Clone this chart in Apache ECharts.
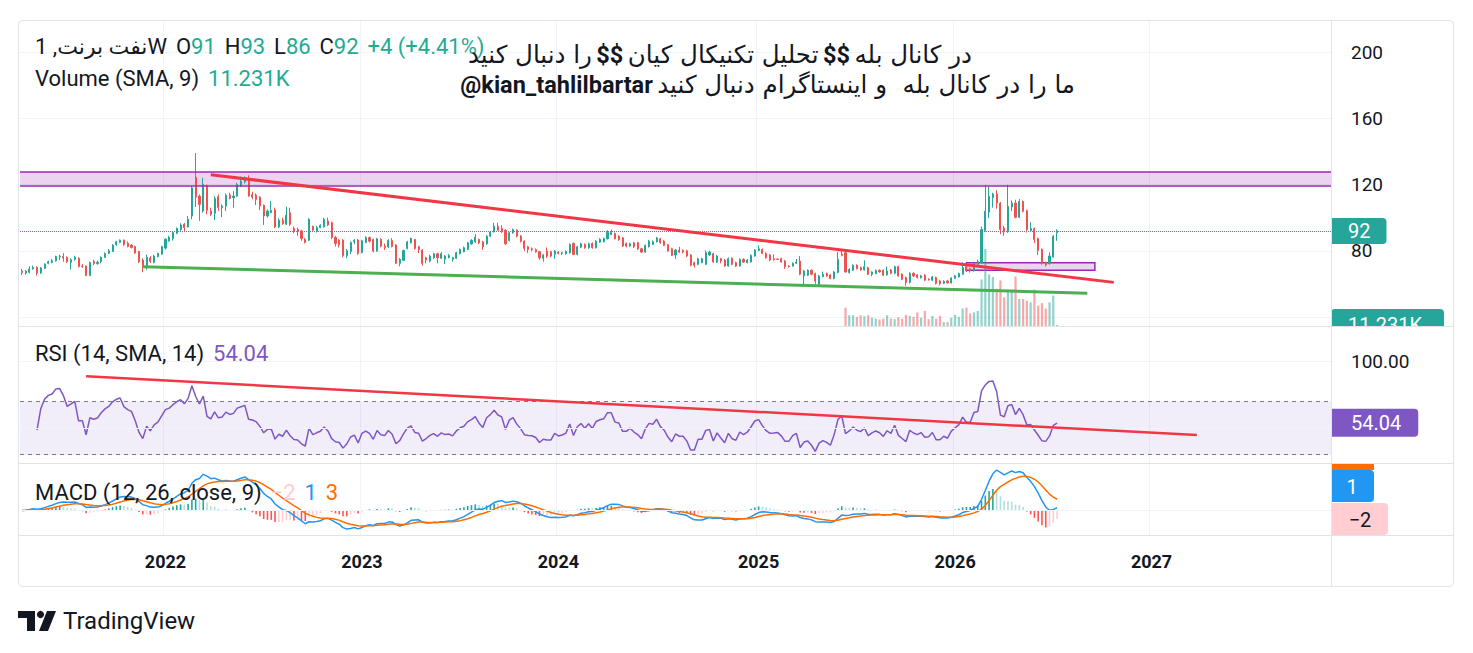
<!DOCTYPE html>
<html>
<head>
<meta charset="utf-8">
<script src="https://cdn.jsdelivr.net/npm/echarts@6/dist/echarts.min.js"></script>
<style>
html,body{margin:0;padding:0;background:#ffffff;}
#chart{width:1473px;height:653px;}
</style>
</head>
<body>
<div id="chart"></div>
<script>
// ---------------- DATA ----------------
const firstWeek = '2021-04-12';
const weeksOnAxis = 347;
const yearTickLabels = ['2022', '2023', '2024', '2025', '2026', '2027'];

// weekly candles: [open, high, low, close]
const weeklyOHLC = [
[67.6,69,65.4,66.8],[66.6,68.4,65.6,67.6],[67,70.6,66.4,69],[69,71,68.6,70],[70,70.6,65,66.6],
[66.6,70.2,66,69.6],[69.4,72.4,69,72],[72.4,74,71.8,73.4],[73,75,72.4,74],[74,77,73.4,76.6],
[76.4,77.6,74.4,76.8],[76.6,78.6,73.4,75.6],[76,76.6,72.6,73.4],[73,75.4,68.6,74.6],[74.8,77,74,76],
[75.4,76,70,70.4],[70.8,72,69.6,70.4],[70.8,71,64.8,65],[65,73.4,65,73],[73.6,74.6,71.4,72.4],
[72.2,74,71.6,73],[73.6,76.6,72.4,76],[76,79,75.8,78.4],[78.4,81,78,80],[79.6,84,79.4,83.4],
[83.6,86,83,85.4],[85,86.8,84.6,86.4],[86.4,86.8,83,83.6],[84.6,85.6,82,82.6],[83.4,84,81.4,82],
[82.6,83,78.2,78.6],[79.6,80,72.6,73.4],[74.4,75.4,67,70],[70.4,77.6,68.6,76],[75.6,76.8,72.6,73.6],
[72.8,77.6,72.4,76.8],[76.4,78.8,76,78.4],[78,83,77.6,82.4],[81.6,87.4,80.6,87],[86,89,85.4,88.2],
[87.4,91.4,86.2,91],[90.6,94,90,93.6],[92.8,96.6,92,95.6],[96,96.8,91.6,94],[94.4,101,94,99],
[101,119,99,118],[124.4,139,106.4,112.4],[113,114,98,108],[104,124,103,120],[119.4,120,102,104.4],
[104,106,101,102],[102.6,113,98.4,111.6],[112.6,114,104,106],[106,108,100.4,107],[107,114.6,104,113.6],
[113.6,115,111,111.6],[112,116,106,113],[113,121,112.6,120],[119,124.8,118.4,122],[121.6,124.8,120.6,124],
[122.4,125.6,112.6,113],[114,115.6,111,112.4],[113.6,114.6,107.6,111],[112.4,113,104.6,107],[107.4,108,95.6,101],
[101,105,100,104],[103,110,102.6,104.4],[104.6,106,93.6,94.4],[94.4,99.6,93.6,98.4],[98.4,100,95.6,96.4],
[96,106.6,95.6,101.4],[103,106,95,96],[93.6,94.6,90.6,92],[92.8,94,89,91.6],[92,92.6,86,87.4],
[87,87.6,84.4,85],[86.4,99.6,86,99],[94.6,95.2,91.4,92.4],[91.6,95,91,94],[94,96,93.6,95.4],
[94.4,99.8,94,99],[98,100,95,95.6],[97,97.6,87,88],[88,89,82.6,84.4],[86.4,87,82,83.6],
[86.4,87,76,77],[77,81,75.6,80],[79.6,85.6,78,85],[85.4,87,84,86.4],[86.4,87.2,77.6,78.4],
[79,86.6,78.4,86],[85,88.8,84.6,88],[88,88.6,85,85.8],[86.8,87.4,79,79.8],[79.8,87.8,79.4,87.2],
[86.8,87.6,82,82.8],[82.8,84.4,80.4,82],[82.4,87,81.6,86.2],[86.2,87.6,82,82.6],[83.4,84,72,72.4],
[72.4,75.6,70.6,74.8],[74.2,80.6,73.8,80.2],[81.4,86,80.8,85.4],[84.8,88,84.4,87.4],[86.8,87.2,80.6,81.4],
[82.4,83,78.6,80.6],[80.4,81,71,72.4],[75.8,76.4,72.4,74.4],[73.8,77.6,73,76.8],[75.8,78.8,75,78.2],
[78.2,78.8,72.4,75.8],[75.4,79.2,75,78.2],[74.8,77.4,72,76.8],[75.8,78,75.4,77.2],[74.8,76.4,73.4,75.8],
[75.4,79.4,75,78.8],[78.2,81.4,77.8,80.8],[79.4,82.6,79,81.8],[80.8,85.4,80.4,84.8],[84.2,87,83.6,86.2],
[85.4,90,84.6,88.2],[86.8,87.4,84,84.8],[85.4,86,80.6,82.4],[84.2,89.4,83.6,88.8],[88.8,92,88.4,91.2],
[91.4,96.8,91,94.8],[94.8,97,92,92.4],[93.4,95.4,90.8,91.4],[92.4,93,83.4,84.2],[86.2,91.4,85.6,90.8],
[90.8,93.4,90.2,92.8],[92.4,93,88,88.8],[88.8,89.4,85,85.8],[85.8,86.4,80,81.4],[82.4,83,78.6,80.8],
[81.2,82,79.6,80.6],[80.8,81.4,78.8,79.4],[79.4,80,74.6,75.8],[75.4,78,73.4,77.4],[79.8,82,75.6,76.8],
[79.4,80,76,76.8],[77.8,80.4,75,79.8],[79.2,79.8,77.8,78.4],[78.4,79.4,77.4,78.8],[78.2,80.2,77.6,79.6],
[78.8,84.4,78.2,83.8],[84.4,85,77.4,77.8],[77.8,83,77.2,82.4],[82.2,84.8,81.6,84.2],[83.8,84.4,81.2,81.8],
[81.8,85,81.2,84.2],[84.4,85,81.2,81.8],[81.8,86.4,81.4,85.8],[85.2,87.6,84.8,86.8],[85.4,88,85,87.4],
[87.2,92.4,86.8,91.2],[89.8,92.8,89.4,91.2],[90.4,91,86.8,87.2],[88.8,89.4,86,86.8],[87.8,88.4,82.2,82.8],
[84.4,85,82,82.8],[82.8,84.8,82.4,84.2],[84.8,85.4,81.6,82.4],[84.8,85.4,80.4,81.2],[81.2,81.8,78.6,79.2],
[79.2,83.8,78.8,83.2],[82.4,86.6,82,85.8],[83.8,86.2,83.4,85.4],[85.4,88.4,85,87.8],[87.2,87.8,84.2,84.8],
[85.8,86.4,82.8,83.2],[83.6,84,79.4,79.8],[81.2,81.8,76.8,77.2],[77.4,81,75,80.4],[80.4,82.4,78.6,79.2],
[80.2,80.8,78.4,79.2],[80,80.6,76.2,76.8],[77.4,78,70.6,71.2],[72.8,73.4,69.8,71.2],[71.8,75.8,71.2,75.2],
[72.8,75.8,72.4,75.2],[71.8,80.2,71.4,78.8],[77.4,80,76.8,79.2],[78.2,78.8,72.8,73.2],[73.2,77.4,72.6,76.8],
[75.2,75.8,72.4,73.8],[74.4,75,70.2,70.8],[70.8,76,70.4,75.2],[75.4,76,71.2,71.8],[72.8,73.4,70.2,70.8],
[70.8,75.4,70.4,74.8],[74.8,75.4,72.6,73.2],[72.8,75,72.4,74.4],[73.2,77.8,72.8,77.2],[76.8,81,76.4,80.4],
[80.2,83.2,79.8,81.2],[80.8,81.4,78,78.4],[78.4,79,75.2,75.8],[77.4,78,73.8,74.4],[75.2,77.8,74,74.6],
[75,75.4,74.4,74.8],[75.2,75.8,72.8,73.2],[73.8,74.4,69,70.4],[70.8,71.2,69.8,70.4],[70.8,73,70.4,72.4],
[72.4,75,72,73.2],[73.8,76.8,65.2,65.8],[64.8,68.4,59,67.8],[65.2,68.8,64.8,68.2],[68.2,68.8,65.2,65.8],
[66.2,66.8,60,61.8],[59.2,65.4,59,64.8],[64.4,67.4,64,65.8],[66.2,66.8,64.2,64.8],[65.4,66,62.8,63.2],
[63.2,67.8,62.8,67.2],[66.8,79.2,66.4,74.8],[77.8,79.8,76.6,77.2],[78.8,79.8,66.8,67.2],[66.8,69.4,66.2,68.8],
[68.2,71.8,67.8,71.2],[71.2,71.8,68.8,69.2],[69.8,70.4,68,68.4],[68.4,74.2,68,70.4],[69.8,70.4,65.4,65.8],
[65.8,67.6,64.6,67.2],[66.2,68.6,65.8,68.2],[68.2,68.8,66.8,67.2],[68.2,68.8,64.8,65.2],[65.4,70.4,65,67.8],
[68.4,69,65.8,66.4],[66.4,71,65.8,70.4],[70.4,71,64.4,64.8],[65.8,66.4,62.2,62.8],[63.8,64.4,58.8,60.8],
[60.8,67,60.2,66.4],[66.4,67,64.2,64.8],[65.4,66,63.2,63.8],[63.8,65.4,63.2,64.8],[65.2,65.8,61.6,62.2],
[62.8,63.4,62,62.4],[62.2,64.8,61.8,64.2],[63.8,64.4,59.6,60.2],[61.8,62.4,59,60.2],[60.4,62.2,60,61.6],
[61.8,62.4,60.2,60.6],[60.6,64,60.2,63.4],[63.4,65.4,63,64.8],[64.2,66.8,63.8,66.2],[65.8,73,65.4,69.8],
[70.2,70.8,67.2,67.8],[69.2,69.8,66.8,67.8],[67.8,73.4,67.4,72.8],[71.8,74.6,71.2,73.4],[72.8,94.6,72.4,92.8],
[92.2,119.8,91.6,103.8],[103.4,118.8,99.8,112.8],[112.2,115,106,114.2],[114.2,116.6,105.4,108.8],[108.8,109.4,90,92.8],
[93.8,95,89,91.4],[91.4,119.8,90.8,106.8],[106.4,110.4,104,108.8],[108.8,110.8,99.6,100.2],[100.2,111.2,99.6,109.8],
[109.8,110.4,103.2,103.8],[104.2,104.8,91,92.8],[92.2,97.2,91.6,93.4],[93.4,94,84.6,86.8],[87.4,88,77.4,80.2],
[80.8,81.4,71.6,72.2],[72.8,73.4,70.6,71.4],[72.2,79,71.6,76.8],[76.2,89.4,76,88.8],[91,93,86,92]
];

// weekly volume in thousands, starting at this week
const volumeFromWeek = '2025-06-16';
const volumeK = [
9.2,5.4,5.4,4.6,5.4,4.9,5.4,4.2,3.7,3.2,3.7,5.4,3.7,3.4,
4.4,3.7,5.6,5.1,4.6,6.8,4.2,7.6,3.4,5.1,3.7,5.1,2.0,2.0,4.2,5.6,4.6,8.8,9.3,6.3,6.8,7.6,
23.4,38.7,25.9,24.6,18.7,22.9,14.4,18.3,18.3,24.9,13.6,13.6,12.7,11.9,18.3,10.2,11.5,8.8,11.9,15.3,0.5
];
const volumeSmaLabel = '11.231K';

// drawings: [week, value]
const redTrendPrice = [['2022-03-28', 125.9], ['2026-10-26', 60.9]];
const greenTrendPrice = [['2021-11-22', 70.4], ['2026-09-07', 54.3]];
const resistanceZone = [119.5, 127.5];
const smallBox = [['2026-01-26', 72.8], ['2026-09-21', 68.3]];
const redTrendRsi = [['2021-08-09', 89.0], ['2027-03-29', 44.7]];

const rsiLast = 54.04;
const macdLegend = {hist: '−2', macd: '1', signal: '3'};

// ---------------- DERIVED ----------------
const categories = [];
const t0 = Date.parse(firstWeek);
for (let i = 0; i < weeksOnAxis; i++) {
  categories.push(new Date(t0 + i * 7 * 86400000).toISOString().slice(0, 10));
}
function isYearStart(i) {
  if (i <= 0) return false;
  const y = categories[i].slice(0, 4);
  return y !== categories[i - 1].slice(0, 4) && yearTickLabels.indexOf(y) >= 0;
}
const closes = weeklyOHLC.map(r => r[3]);
const candleData = weeklyOHLC.map(r => [r[0], r[3], r[2], r[1]]);
const volStart = categories.indexOf(volumeFromWeek);
const volumeData = weeklyOHLC.map((r, i) => {
  const k = i - volStart;
  if (k < 0 || k >= volumeK.length) return null;
  return {value: volumeK[k], itemStyle: {color: r[3] >= r[0] ? 'rgba(38,166,154,0.5)' : 'rgba(239,83,80,0.5)'}};
});

function rsi(src, len) {
  const out = [];
  let ag = 0, al = 0;
  for (let i = 0; i < src.length; i++) {
    if (i === 0) { out.push(null); continue; }
    const ch = src[i] - src[i - 1];
    const g = Math.max(ch, 0), l = Math.max(-ch, 0);
    if (i <= len) { ag = (ag * (i - 1) + g) / i; al = (al * (i - 1) + l) / i; }
    else { ag = (ag * (len - 1) + g) / len; al = (al * (len - 1) + l) / len; }
    const v = al === 0 ? 100 : 100 - 100 / (1 + ag / al);
    out.push(i >= 4 ? +v.toFixed(2) : null);
  }
  return out;
}
function ema(src, n) {
  const k = 2 / (n + 1);
  const out = [];
  let e = src[0];
  for (let i = 0; i < src.length; i++) {
    e = i === 0 ? src[0] : src[i] * k + e * (1 - k);
    out.push(e);
  }
  return out;
}
const rsiData = rsi(closes, 14);
const e12 = ema(closes, 12), e26 = ema(closes, 26);
const macdData = closes.map((_, i) => +(e12[i] - e26[i]).toFixed(3));
const signalData = ema(macdData, 9).map(v => +v.toFixed(3));
const histData = macdData.map((m, i) => {
  const h = +(m - signalData[i]).toFixed(3);
  const prev = i > 0 ? macdData[i - 1] - signalData[i - 1] : 0;
  let c;
  if (h >= 0) c = h > prev ? '#26a69a' : '#b2dfdb';
  else c = h < prev ? '#ff5252' : '#ffcdd2';
  return {value: h, itemStyle: {color: c}};
});

// ---------------- CHART ----------------
const FONT = 'Roboto, "Noto Sans", "DejaVu Sans", sans-serif';
const FA = '"DejaVu Sans", "Noto Sans", sans-serif';
const chart = echarts.init(document.getElementById('chart'), null, {renderer: 'svg', width: 1473, height: 653});

const gridL = 20, gridR = 142;
const lineSym = ['none', 'none'];
const CLEAR = 'rgba(0,0,0,0)';
function legendStyle(color, size) {
  return {color: color, fontSize: size || 22, fontWeight: 'normal', fontFamily: FONT};
}

const option = {
  animation: false,
  backgroundColor: '#ffffff',
  textStyle: {fontFamily: FONT},
  title: [
    {left: 35, top: 35, padding: 0, text: '{d|نفت برنت, 1W}  {d|O}{g|91}  {d|H}{g|93}  {d|L}{g|86}  {d|C}{g|92}  {g|+4 (+4.41%)}',
     textStyle: {fontWeight: 'normal', rich: {d: legendStyle('#131722'), g: legendStyle('#22ab94')}}},
    {left: 35, top: 67, padding: 0, text: '{d|Volume (SMA, 9)}  {g|' + volumeSmaLabel + '}',
     textStyle: {fontWeight: 'normal', rich: {d: legendStyle('#131722'), g: legendStyle('#22ab94')}}},
    {left: 35, top: 342, padding: 0, text: '{d|RSI (14, SMA, 14)}  {p|' + rsiLast.toFixed(2) + '}',
     textStyle: {fontWeight: 'normal', rich: {d: legendStyle('#131722'), p: legendStyle('#7e57c2')}}},
    {left: 35, top: 481, padding: 0, text: '{d|MACD (12, 26, close, 9)}  {h|' + macdLegend.hist + '}  {b|' + macdLegend.macd + '}  {o|' + macdLegend.signal + '}',
     textStyle: {fontWeight: 'normal', rich: {d: legendStyle('#131722'), h: legendStyle('#ffcdd2'), b: legendStyle('#2196f3'), o: legendStyle('#ff6d00')}}},
    {right: 501, top: 42, padding: 0, text: '{n|را دنبال کنید} {b|$$} {n|تحلیل تکنیکال کیان} {b|$$} {n|در کانال بله}',
     textStyle: {fontWeight: 'normal', rich: {n: {color: '#131722', fontSize: 24.5, fontWeight: 'normal', fontFamily: FA},
       b: {color: '#131722', fontSize: 23.5, fontWeight: 'bold', fontFamily: FONT}}}},
    {right: 398, top: 72, padding: 0, text: '{b|@kian_tahlilbartar} {n|ما را در کانال بله  و اینستاگرام دنبال کنید}',
     textStyle: {fontWeight: 'normal', rich: {n: {color: '#131722', fontSize: 24.5, fontWeight: 'normal', fontFamily: FA},
       b: {color: '#131722', fontSize: 23.5, fontWeight: 'bold', fontFamily: FONT}}}}
  ],
  grid: [
    {left: gridL, right: gridR, top: 52, bottom: 653 - 317},
    {left: gridL, right: gridR, top: 20, bottom: 653 - 326},
    {left: gridL, right: gridR, top: 326, bottom: 653 - 463},
    {left: gridL, right: gridR, top: 463, bottom: 653 - 535}
  ],
  xAxis: [0, 1, 2, 3].map(i => ({
    type: 'category', gridIndex: i, data: categories, boundaryGap: true,
    axisLine: {show: false}, axisTick: {show: false},
    axisLabel: i === 3 ? {
      show: true, interval: (idx) => isYearStart(idx), formatter: v => v.slice(0, 4),
      fontSize: 18, fontWeight: 'bold', color: '#131722', margin: 17, fontFamily: FONT
    } : {show: false},
    splitLine: i === 0 ? {show: false} : {show: true, interval: (idx) => isYearStart(idx), lineStyle: {color: '#f0f3fa', width: 1}}
  })),
  yAxis: [
    {type: 'value', gridIndex: 0, position: 'right', min: 40, max: 200, interval: 40,
     axisLine: {show: false}, axisTick: {show: false},
     axisLabel: {margin: 20, fontSize: 19, color: '#131722', showMinLabel: false, fontFamily: FONT},
     splitLine: {lineStyle: {color: '#f0f3fa', width: 1}}},
    {type: 'value', gridIndex: 1, show: false, min: 0, max: v => v.max * 306 / 77},
    {type: 'value', gridIndex: 2, show: false, min: 23.7, max: 126.9},
    {type: 'value', gridIndex: 3, show: false,
     min: v => v.min - (v.max - v.min) * 0.1, max: v => v.max + (v.max - v.min) * 0.12}
  ],
  series: [
    {
      name: 'price', type: 'candlestick', xAxisIndex: 0, yAxisIndex: 0, data: candleData, z: 3,
      barWidth: 1.6,
      itemStyle: {color: '#26a69a', color0: '#ef5350', borderColor: '#26a69a', borderColor0: '#ef5350', borderWidth: 1},
      markLine: {
        silent: true, symbol: lineSym,
        data: [{yAxis: closes[closes.length - 1],
          lineStyle: {color: '#26a69a', type: 'dotted', width: 1},
          label: {show: true, position: 'end', distance: 0, formatter: String(closes[closes.length - 1]),
            color: '#ffffff', fontSize: 20, lineHeight: 20, backgroundColor: '#26a69a', padding: [3, 16, 3, 17], borderRadius: [0, 4, 4, 0], fontFamily: FONT}}]
      }
    },
    {
      name: 'volume', type: 'bar', xAxisIndex: 1, yAxisIndex: 1, data: volumeData, barWidth: 2.2, z: 2,
      markLine: {
        silent: true, symbol: lineSym,
        data: [{yAxis: volumeK[volumeK.length - 1], lineStyle: {color: CLEAR, width: 0},
          label: {show: true, position: 'end', distance: 0, formatter: volumeSmaLabel, color: '#ffffff', fontSize: 20, lineHeight: 20,
            backgroundColor: '#26a69a', padding: [6, 22, 6, 17], borderRadius: 4, fontFamily: FONT}}]
      }
    },
    {
      name: 'zone', type: 'line', xAxisIndex: 0, yAxisIndex: 0, data: greenTrendPrice, z: 5,
      symbol: 'none', lineStyle: {color: '#4caf50', width: 3},
      markArea: {
        silent: true,
        data: [
          [{yAxis: resistanceZone[0], itemStyle: {color: 'rgba(156,39,176,0.2)', borderWidth: 0}}, {yAxis: resistanceZone[1]}],
          [{xAxis: smallBox[0][0], yAxis: smallBox[0][1], itemStyle: {color: 'rgba(156,39,176,0.2)', borderColor: '#9c27b0', borderWidth: 1.5}},
           {xAxis: smallBox[1][0], yAxis: smallBox[1][1]}]
        ]
      },
      markLine: {
        silent: true, symbol: lineSym, label: {show: false},
        lineStyle: {color: '#9c27b0', width: 1.5, type: 'solid'},
        data: [{yAxis: resistanceZone[0]}, {yAxis: resistanceZone[1]}]
      }
    },
    {
      name: 'redTrend', type: 'line', xAxisIndex: 0, yAxisIndex: 0, data: redTrendPrice, z: 6,
      symbol: 'none', lineStyle: {color: '#f23645', width: 3}
    },
    {
      name: 'RSI', type: 'line', xAxisIndex: 2, yAxisIndex: 2, data: rsiData, z: 4,
      symbol: 'none', lineStyle: {color: '#7e57c2', width: 1.5},
      markArea: {silent: true, data: [[{yAxis: 30, itemStyle: {color: 'rgba(126,87,194,0.1)'}}, {yAxis: 70}]]},
      markLine: {
        silent: true, symbol: lineSym,
        data: [
          {yAxis: 100, lineStyle: {color: '#f0f3fa', width: 1, type: 'solid'},
           label: {show: true, position: 'end', distance: 20, formatter: '100.00', color: '#131722', fontSize: 19, fontFamily: FONT}},
          {yAxis: 50, lineStyle: {color: '#f0f3fa', width: 1, type: 'solid'}, label: {show: false}},
          {yAxis: 70, lineStyle: {color: '#787b86', width: 1, type: [4, 4]}, label: {show: false}},
          {yAxis: 30, lineStyle: {color: '#787b86', width: 1, type: [4, 4]}, label: {show: false}},
          {yAxis: rsiLast, lineStyle: {color: CLEAR, width: 0},
           label: {show: true, position: 'end', distance: 0, formatter: rsiLast.toFixed(2), color: '#ffffff', fontSize: 20, lineHeight: 20,
             backgroundColor: '#7e57c2', padding: [4, 17, 4, 20], borderRadius: [0, 4, 4, 0], fontFamily: FONT}}
        ]
      }
    },
    {
      name: 'rsiTrend', type: 'line', xAxisIndex: 2, yAxisIndex: 2, data: redTrendRsi, z: 6,
      symbol: 'none', lineStyle: {color: '#f23645', width: 2.5}
    },
    {
      name: 'hist', type: 'bar', xAxisIndex: 3, yAxisIndex: 3, data: histData, barWidth: 1.6, z: 2,
      markLine: {silent: true, symbol: lineSym, label: {show: false},
        data: [{yAxis: 0, lineStyle: {color: '#f0f3fa', width: 1, type: 'solid'}}]}
    },
    {
      name: 'MACD', type: 'line', xAxisIndex: 3, yAxisIndex: 3, data: macdData, z: 4,
      symbol: 'none', lineStyle: {color: '#2196f3', width: 1.5}
    },
    {
      name: 'Signal', type: 'line', xAxisIndex: 3, yAxisIndex: 3, data: signalData, z: 4,
      symbol: 'none', lineStyle: {color: '#ff6d00', width: 1.5}
    }
  ],
  graphic: [
    // mask lower part of volume badge (clipped by pane)
    {type: 'rect', z: 100, shape: {x: 1332, y: 327, width: 121, height: 22}, style: {fill: '#ffffff'}},
    // MACD pane value badges
    {type: 'rect', z: 101, shape: {x: 1331, y: 464, width: 43, height: 6}, style: {fill: '#ff6d00'}},
    {type: 'rect', z: 101, shape: {x: 1331, y: 470, width: 43, height: 32, r: [0, 4, 4, 0]}, style: {fill: '#2196f3'}},
    {type: 'text', z: 102, style: {text: macdLegend.macd, x: 1352, y: 487, fill: '#ffffff', fontSize: 20, fontFamily: FONT, align: 'center', verticalAlign: 'middle'}},
    {type: 'rect', z: 101, shape: {x: 1331, y: 503, width: 57, height: 32, r: [0, 4, 4, 0]}, style: {fill: '#ffcdd2'}},
    {type: 'text', z: 102, style: {text: macdLegend.hist, x: 1360, y: 520, fill: '#131722', fontSize: 20, fontFamily: FONT, align: 'center', verticalAlign: 'middle'}},
    // frame and separators
    {type: 'rect', z: 110, shape: {x: 18.5, y: 20.5, width: 1435, height: 566, r: 4}, style: {fill: 'none', stroke: '#e0e3eb', lineWidth: 1}},
    {type: 'line', z: 110, shape: {x1: 18.5, y1: 326.5, x2: 1453.5, y2: 326.5}, style: {stroke: '#e0e3eb', lineWidth: 1}},
    {type: 'line', z: 110, shape: {x1: 18.5, y1: 463.5, x2: 1453.5, y2: 463.5}, style: {stroke: '#e0e3eb', lineWidth: 1}},
    {type: 'line', z: 110, shape: {x1: 18.5, y1: 535.5, x2: 1453.5, y2: 535.5}, style: {stroke: '#e0e3eb', lineWidth: 1}},
    {type: 'line', z: 110, shape: {x1: 1331.5, y1: 20.5, x2: 1331.5, y2: 586.5}, style: {stroke: '#e0e3eb', lineWidth: 1}},
    // TradingView logo + name
    {type: 'polygon', z: 110, shape: {points: [[18, 611], [35, 611], [35, 631], [27, 631], [27, 618], [18, 618]]}, style: {fill: '#131722'}},
    {type: 'circle', z: 110, shape: {cx: 40.5, cy: 614.5, r: 3.6}, style: {fill: '#131722'}},
    {type: 'polygon', z: 110, shape: {points: [[47, 611], [56, 611], [48, 631], [39, 631]]}, style: {fill: '#131722'}},
    {type: 'text', z: 110, style: {text: 'TradingView', x: 63, y: 621, fill: '#131722', fontSize: 24, fontFamily: FONT, align: 'left', verticalAlign: 'middle'}}
  ]
};
chart.setOption(option);
</script>
</body>
</html>
